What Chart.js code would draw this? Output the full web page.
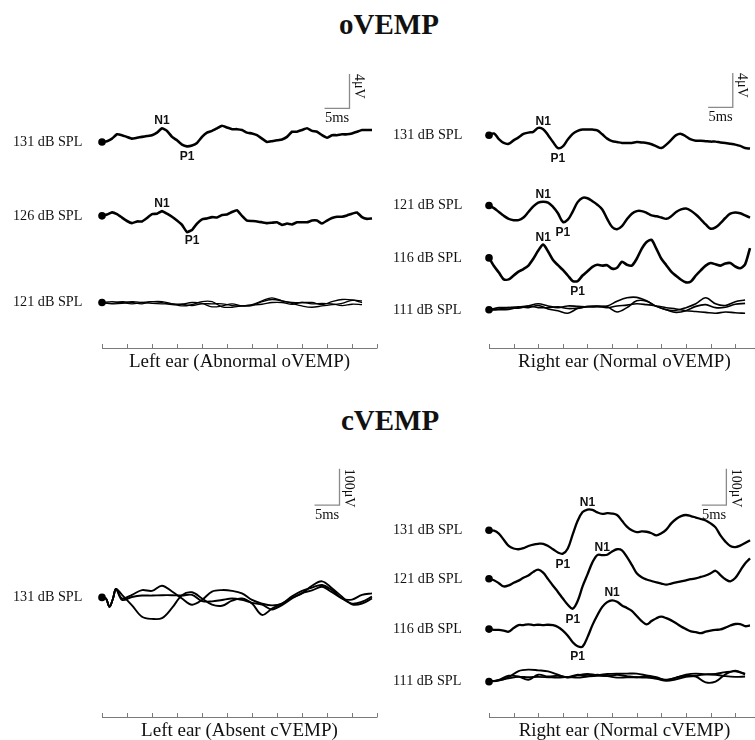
<!DOCTYPE html>
<html>
<head>
<meta charset="utf-8">
<title>oVEMP / cVEMP</title>
<script src="https://cdn.jsdelivr.net/npm/chart.js@4.4.0/dist/chart.umd.min.js"></script>
<style>
  html, body { margin: 0; padding: 0; background: #fff; overflow: hidden; }
  body { width: 755px; height: 740px; position: relative; }
  .head { position: absolute; width: 200px; text-align: center; font-family: "Liberation Serif", "Times New Roman", serif; font-weight: bold; font-size: 29px; color: #111; line-height: 32px; }
  canvas { position: absolute; }
</style>
</head>
<body>
<div class="head" style="left:289px; top:8px">oVEMP</div>
<div class="head" style="left:290px; top:404px">cVEMP</div>
<canvas id="oLeft" width="400" height="325" style="left:0; top:55px"></canvas>
<canvas id="oRight" width="375" height="325" style="left:380px; top:55px"></canvas>
<canvas id="cLeft" width="400" height="300" style="left:0; top:440px"></canvas>
<canvas id="cRight" width="375" height="300" style="left:380px; top:440px"></canvas>
<script>
// --- time bases (ms) ---
const msFine = [0,1,2,3,4,5,6,7,8,9,10,11,12,13,14,15,16,17,18,19,20,21,22,23,24,25,26,27,28,29,
  30,31,32,33,34,35,36,37,38,39,40,41,42,43,44,45,46,47,48,49,50,51,52,53,54];
const msCoarse = [0,2,4,6,8,10,12,14,16,18,20,22,24,26,28,30,32,34,36,38,40,42,44,46,48,50,52];
const msCLeft = [0,0.8,1.5,2.2,2.8,4,6,8,10,12,14,16,18,20,22,24,26,28,30,32,34,36,38,40,42,44,46,48,50,52,54];
const tickMs = [0,5,10,15,20,25,30,35,40,45,50,55];

// --- oVEMP, left ear (uV) ---
const oL131 = [0,0.1,0.4,0.9,0.8,0.6,0.4,0.5,0.6,0.7, 0.8,1.1,1.6,1.3,0.6,0.2,-0.3,-0.5,-0.4,-0.1,
  0.6,1.1,1.3,1.6,1.9,1.7,1.5,1.5,1.4,1.1, 1.0,0.8,0.4,0,0.1,0.2,0.3,0.6,1.2,1.2,
  1.4,1.6,1.3,1.2,0.8,0.5,0.8,0.8,0.9,0.9, 1.0,1.2,1.4,1.4,1.4];
const oL126 = [0,0.15,0.4,0.2,-0.2,-0.6,-0.85,-0.65,-0.65,-0.25, 0.2,0.25,0.55,0.25,-0.1,-0.55,-1.05,-1.9,-1.65,-0.9,
  -0.4,-0.3,-0.15,-0.2,0.1,0.15,0.45,0.65,0,-0.55, -0.6,-0.65,-0.75,-0.85,-0.8,-0.75,-1.05,-0.9,-1.0,-0.75,
  -0.75,-0.75,-0.55,-0.55,-0.9,-0.55,-0.25,-0.1,-0.1,0.05, 0.25,0.4,-0.15,-0.35,-0.3];
const oL121a = [0,0.1,0,-0.15,0,0.1,0.1,-0.15,-0.4,-0.25,0.1,0.1,-0.5,-0.55,-0.4,-0.25,0.2,0.55,0.2,0,0,0,-0.25,0.1,0.35,0.3,0];
const oL121b = [0,-0.1,0.1,0,-0.15,0.1,0,-0.25,-0.2,0,-0.1,-0.5,-0.4,-0.15,-0.4,-0.35,0.1,0.35,0.2,-0.1,-0.4,-0.55,-0.4,-0.25,-0.1,0.25,0.2];
const oL121c = [0,-0.15,-0.1,0.1,0,-0.1,-0.15,-0.15,-0.2,-0.35,-0.15,-0.15,-0.15,-0.35,-0.4,-0.3,-0.2,0,0,-0.2,0,-0.15,-0.1,-0.15,-0.35,-0.2,-0.25];

// --- oVEMP, right ear (uV) ---
const oR131 = [0,0.2,-0.45,-0.9,-1.0,-0.6,-0.25,0.15,0.3,0.4, 0.85,0.7,0,-0.8,-1.5,-1.3,-0.5,0.15,0.5,0.65,
  0.65,0.65,0.55,0.1,-0.4,-0.7,-0.8,-0.9,-0.9,-0.9, -0.8,-0.85,-0.9,-1.05,-1.3,-1.5,-1.1,-0.55,0,0.15,
  -0.15,-0.5,-0.65,-0.65,-0.7,-0.75,-0.75,-0.85,-0.9,-1.0, -1.1,-1.25,-1.5,-1.55];
const oR121 = [0,-0.3,-0.75,-1.2,-1.55,-1.7,-1.7,-1.4,-0.75,-0.1, 0.35,0.45,0.35,-0.15,-0.9,-1.9,-1.65,-0.7,0.4,0.9,
  0.85,0.5,0.1,-0.45,-1.55,-2.5,-2.75,-2.4,-1.6,-0.95, -0.65,-0.65,-0.85,-1.15,-1.25,-1.4,-1.55,-1.25,-0.75,-0.45,
  -0.35,-0.6,-1.05,-1.6,-2.2,-2.7,-2.55,-2.05,-1.45,-0.95, -0.8,-0.9,-1.15,-1.4];
const oR116 = [0,-0.95,-1.7,-2.5,-2.5,-2.05,-1.6,-1.3,-0.9,-0.1, 0.85,1.55,0.75,-0.25,-0.85,-1.4,-2.05,-2.7,-2.7,-2.05,
  -1.55,-1.05,-0.8,-0.9,-0.85,-1.25,-1.15,-0.45,-0.8,-0.9, -0.1,1.05,1.85,2.1,1.05,-0.1,-0.85,-1.6,-2.1,-2.55,
  -2.85,-2.75,-2.05,-1.45,-0.9,-0.6,-0.75,-0.9,-0.65,-0.6, -1.0,-1.2,-0.75,1.15];
const oR111a = [0,0.25,0.25,0.2,0.45,0.7,0.45,0.25,0.45,0.4,0.35,0.35,0.45,1.0,1.4,1.45,1.05,0.4,0,-0.05,0.25,0.7,1.4,0.7,0.5,0.95,1.15];
const oR111b = [0,0.1,0.25,0.35,0.25,0.5,0.1,-0.1,-0.4,0.15,0.4,0.45,0.35,-0.25,0.25,1.05,1.0,0.4,0,-0.3,-0.1,0.4,0.6,0.25,0.3,0.65,0.75];
const oR111c = [0,0,0.05,0.3,0.45,0.25,0.25,0.35,0.15,0.2,0.35,0.4,0.25,0.45,0.55,0.7,0.6,0.45,0.25,0.1,-0.1,-0.2,-0.3,-0.4,-0.25,-0.35,-0.4];

// --- cVEMP, left ear (uV) ---
const cL131a = [0,-3,-26,-3,23, 7,-22,-53,-59,-57,-29,6,14,-3,-20,-23,-9,-3,-17,-48,-31,-17,-1,11,32,44,25,2,-19,-17,-3];
const cL131b = [0,-3,-26,-3,23, -3,7,20,18,32,16,-3,-20,-7,16,20,18,11,-7,-17,-22,-17,3,18,27,34,20,-3,-6,7,11];
const cL131c = [0,-3,-26,-3,23, -7,1,5,5,6,6,5,7,-10,-11,-7,-3,-7,-15,-20,-33,-21,-3,12,19,29,14,-3,-17,-12,2];

// --- cVEMP, right ear (uV) ---
const cR131 = [0,-1,-9,-26,-43,-50,-52,-49,-43,-39, -37,-37,-43,-52,-61,-64,-50,-11,26,50,
  57,56,49,45,47,46,42,26,10,0, -5,-3,-4,-8,-14,-8,2,19,31,39,
  42,39,35,31,27,19,8,-14,-31,-43, -46,-42,-35,-27];
const cR121 = [0,-4,-12,-21,-18,-11,-5,3,9,19, 25,17,-1,-19,-36,-54,-71,-82,-61,-21,
  12,45,65,65,66,75,81,78,60,38, 15,4,-2,-6,-10,-13,-16,-13,-10,-7,
  -4,-1,1,5,9,15,22,10,-1,-7, 2,22,42,56];
const cR116 = [0,-2,-2,-4,-7,3,11,11,13,11, 12,11,12,11,6,-4,-18,-36,-47,-48,
  -22,11,38,61,74,79,75,65,58,50, 36,22,13,22,30,34,30,24,16,7,
  0,-6,-8,-11,-7,-4,-2,-1,4,10, 14,14,8,10];
const cR111a = [0,3,12,29,33,31,28,19,11,17,21,18,21,22,22,22,17,12,4,11,19,22,20,21,26,28,22];
const cR111b = [0,5,16,14,5,19,14,16,12,19,15,19,15,19,15,12,14,10,5,11,16,14,-2,0,20,30,20];
const cR111c = [0,4,9,13,12,13,12,11,13,11,14,16,15,11,12,12,11,8,2,6,13,16,20,19,15,13,14];

const SERIF = '"Liberation Serif", "Times New Roman", serif';
const SANS = '"Liberation Sans", Arial, sans-serif';

// --- panel layout ---
const panels = [
  {
    id: 'oLeft', padL: 102, padR: 23, padB: 32, xMax: 55, pxPerUnit: 8.7, labelX: 13,
    title: 'Left ear (Abnormal oVEMP)',
    bar: { t0: 44.5, v0: 27.93, dv: 4, label: '4\u03bcV' },
    rows: [
      { label: '131 dB SPL', offset: 24.0, traces: [{ ms: msFine, v: oL131, w: 2.6, tension: 0.1 }],
        peaks: [{ text: 'N1', i: 12 }, { text: 'P1', i: 17, below: true }] },
      { label: '126 dB SPL', offset: 15.4, traces: [{ ms: msFine, v: oL126, w: 2.6, tension: 0.1 }],
        peaks: [{ text: 'N1', i: 12 }, { text: 'P1', i: 18, below: true }] },
      { label: '121 dB SPL', offset: 5.3, traces: [
        { ms: msCoarse, v: oL121a, w: 1.3, tension: 0.35 },
        { ms: msCoarse, v: oL121b, w: 1.3, tension: 0.35 },
        { ms: msCoarse, v: oL121c, w: 1.3, tension: 0.35 }], peaks: [] }
    ]
  },
  {
    id: 'oRight', padL: 109, padR: 0, padB: 32, xMax: 53.2, pxPerUnit: 8.7, labelX: 13,
    title: 'Right ear (Normal oVEMP)',
    bar: { t0: 44.5, v0: 28.05, dv: 4, label: '4\u03bcV' },
    rows: [
      { label: '131 dB SPL', offset: 24.8, traces: [{ ms: msFine, v: oR131, w: 2.5, tension: 0.35 }],
        peaks: [{ text: 'N1', i: 11 }, { text: 'P1', i: 14, below: true }] },
      { label: '121 dB SPL', offset: 16.6, traces: [{ ms: msFine, v: oR121, w: 2.5, tension: 0.35 }],
        peaks: [{ text: 'N1', i: 11 }, { text: 'P1', i: 15, below: true }] },
      { label: '116 dB SPL', offset: 10.5, traces: [{ ms: msFine, v: oR116, w: 2.6, tension: 0.25 }],
        peaks: [{ text: 'N1', i: 11 }, { text: 'P1', i: 18, below: true }] },
      { label: '111 dB SPL', offset: 4.45, traces: [
        { ms: msCoarse, v: oR111a, w: 1.6, tension: 0.35 },
        { ms: msCoarse, v: oR111b, w: 1.6, tension: 0.35 },
        { ms: msCoarse, v: oR111c, w: 1.6, tension: 0.35 }], peaks: [] }
    ]
  },
  {
    id: 'cLeft', padL: 102, padR: 23, padB: 23, xMax: 55, pxPerUnit: 0.37, labelX: 13,
    title: 'Left ear (Absent cVEMP)',
    bar: { t0: 42.5, v0: 581, dv: 100, label: '100\u03bcV' },
    rows: [
      { label: '131 dB SPL', offset: 328, traces: [
        { ms: msCLeft, v: cL131a, w: 1.9, tension: 0.35 },
        { ms: msCLeft, v: cL131b, w: 1.9, tension: 0.35 },
        { ms: msCLeft, v: cL131c, w: 1.9, tension: 0.35 }], peaks: [] }
    ]
  },
  {
    id: 'cRight', padL: 109, padR: 0, padB: 23, xMax: 53.2, pxPerUnit: 0.37, labelX: 13,
    title: 'Right ear (Normal cVEMP)',
    bar: { t0: 43.2, v0: 581, dv: 100, label: '100\u03bcV' },
    rows: [
      { label: '131 dB SPL', offset: 512, traces: [{ ms: msFine, v: cR131, w: 2.3, tension: 0.35 }],
        peaks: [{ text: 'N1', i: 20 }, { text: 'P1', i: 15, below: true }] },
      { label: '121 dB SPL', offset: 379, traces: [{ ms: msFine, v: cR121, w: 2.3, tension: 0.35 }],
        peaks: [{ text: 'N1', i: 23 }, { text: 'P1', i: 17, below: true }] },
      { label: '116 dB SPL', offset: 241, traces: [{ ms: msFine, v: cR116, w: 2.3, tension: 0.35 }],
        peaks: [{ text: 'N1', i: 25 }, { text: 'P1', i: 18, below: true }] },
      { label: '111 dB SPL', offset: 97, traces: [
        { ms: msCoarse, v: cR111a, w: 1.9, tension: 0.35 },
        { ms: msCoarse, v: cR111b, w: 1.9, tension: 0.35 },
        { ms: msCoarse, v: cR111c, w: 1.9, tension: 0.35 }], peaks: [] }
    ]
  }
];

// axis, labels, peaks and calibration bar
function decor(cfg) {
  return {
    id: 'decor_' + cfg.id,
    afterDraw(chart) {
      const ctx = chart.ctx, xs = chart.scales.x, ys = chart.scales.y;
      const base = chart.chartArea.bottom;
      ctx.save();

      // time axis with inner ticks
      ctx.strokeStyle = '#7a7a7a';
      ctx.lineWidth = 1;
      ctx.beginPath();
      ctx.moveTo(xs.getPixelForValue(0), base + 0.5);
      ctx.lineTo(xs.getPixelForValue(55), base + 0.5);
      tickMs.forEach(t => {
        const px = Math.round(xs.getPixelForValue(t)) + 0.5;
        ctx.moveTo(px, base + 0.5);
        ctx.lineTo(px, base - 4);
      });
      ctx.stroke();

      ctx.fillStyle = '#111';
      ctx.font = '19px ' + SERIF;
      ctx.textAlign = 'center';
      ctx.textBaseline = 'alphabetic';
      ctx.fillText(cfg.title, xs.getPixelForValue(27.5), base + 19);

      // intensity labels
      ctx.font = '14.2px ' + SERIF;
      ctx.textAlign = 'left';
      ctx.textBaseline = 'middle';
      cfg.rows.forEach(r => ctx.fillText(r.label, cfg.labelX, ys.getPixelForValue(r.offset)));

      // N1 / P1 markers
      ctx.font = 'bold 12px ' + SANS;
      ctx.textAlign = 'center';
      ctx.textBaseline = 'alphabetic';
      cfg.rows.forEach(r => {
        const tr = r.traces[0];
        r.peaks.forEach(p => {
          const px = xs.getPixelForValue(tr.ms[p.i]);
          const py = ys.getPixelForValue(r.offset + tr.v[p.i]);
          ctx.fillText(p.text, px, p.below ? py + 14 : py - 4);
        });
      });

      // calibration bar
      const b = cfg.bar;
      const x0 = xs.getPixelForValue(b.t0), x1 = xs.getPixelForValue(b.t0 + 5);
      const y0 = ys.getPixelForValue(b.v0), y1 = ys.getPixelForValue(b.v0 + b.dv);
      ctx.strokeStyle = '#8a8a8a';
      ctx.lineWidth = 1.3;
      ctx.beginPath();
      ctx.moveTo(x0, y0);
      ctx.lineTo(x1, y0);
      ctx.lineTo(x1, y1);
      ctx.stroke();
      ctx.font = '14.5px ' + SERIF;
      ctx.textAlign = 'center';
      ctx.fillText('5ms', (x0 + x1) / 2, y0 + 14);
      ctx.translate(x1 + 2, y1);
      ctx.rotate(Math.PI / 2);
      ctx.font = '14px ' + SERIF;
      ctx.textAlign = 'left';
      ctx.textBaseline = 'bottom';
      ctx.fillText(b.label, 0, 0);

      ctx.restore();
    }
  };
}

function buildPanel(cfg) {
  const canvas = document.getElementById(cfg.id);
  const areaH = canvas.height - cfg.padB;
  const datasets = [];
  cfg.rows.forEach(r => {
    r.traces.forEach((tr, k) => {
      datasets.push({
        data: tr.v.map((v, i) => ({ x: tr.ms[i], y: r.offset + v })),
        borderColor: '#000',
        borderWidth: tr.w,
        tension: tr.tension,
        fill: false,
        clip: false,
        pointRadius: c => (k === 0 && c.dataIndex === 0 ? 3.8 : 0),
        pointBackgroundColor: '#000',
        pointBorderWidth: 0
      });
    });
  });

  new Chart(canvas, {
    type: 'line',
    data: { datasets: datasets },
    options: {
      responsive: false,
      devicePixelRatio: 1,
      animation: false,
      events: [],
      layout: { padding: { left: cfg.padL, right: cfg.padR, top: 0, bottom: cfg.padB } },
      plugins: { legend: { display: false }, tooltip: { enabled: false } },
      scales: {
        x: { type: 'linear', display: false, min: 0, max: cfg.xMax },
        y: { type: 'linear', display: false, min: 0, max: areaH / cfg.pxPerUnit }
      }
    },
    plugins: [decor(cfg)]
  });
}

panels.forEach(buildPanel);
</script>
</body>
</html>
